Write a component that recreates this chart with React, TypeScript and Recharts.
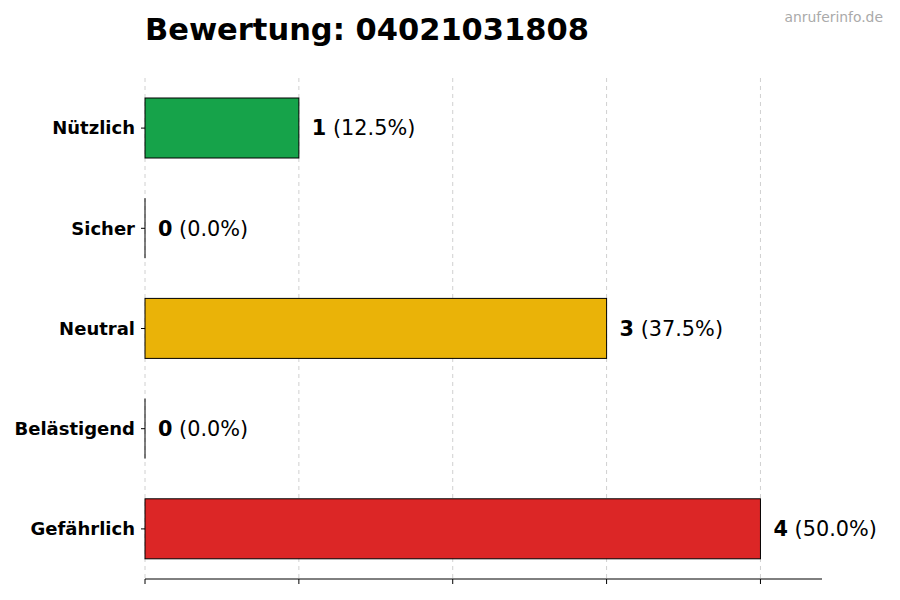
import { BarChart, Bar, XAxis, YAxis, CartesianGrid, Cell, LabelList } from "recharts";

const categories = ["Nützlich", "Sicher", "Neutral", "Belästigend", "Gefährlich"];
const counts = [1, 0, 3, 0, 4];
const percents = ["12.5%", "0.0%", "37.5%", "0.0%", "50.0%"];
const colors = ["#16a34a", "#9ca3af", "#eab308", "#f97316", "#dc2626"];
const xTicks = [0, 1, 2, 3, 4];

const data = categories.map((name, i) => ({ name, count: counts[i], pct: percents[i] }));

const FONT = "DejaVu Sans, sans-serif";

function BarShape(props: any) {
  const { x, y, width, height, fill } = props;
  if (!width) {
    return <line x1={x} x2={x} y1={y} y2={y + height} stroke="#000" strokeWidth={1} />;
  }
  return <rect x={x} y={y} width={width} height={height} fill={fill} stroke="#000" strokeWidth={1} />;
}

function ValueLabel(props: any) {
  const { x, y, width, height, index } = props;
  const d = data[index];
  return (
    <text x={x + width + 13} y={y + height / 2} dy="0.36em" fontFamily={FONT} fontSize={20.8} fill="#000">
      <tspan fontWeight="bold">{d.count}</tspan>
      <tspan> ({d.pct})</tspan>
    </text>
  );
}

export default function App() {
  return (
    <div style={{ position: "absolute", left: 0, top: 0, width: 900, height: 600, background: "#fff" }}>
      <svg width={900} height={600} style={{ position: "absolute", left: 0, top: 0 }}>
        <text x={145} y={40} fontFamily={FONT} fontSize={30.5} fontWeight="bold" fill="#000">
          Bewertung: 04021031808
        </text>
        <text x={883} y={22} textAnchor="end" fontFamily={FONT} fontSize={13.9} fill="#aaaaaa">
          anruferinfo.de
        </text>
      </svg>
      <div style={{ position: "absolute", left: 0, top: 0 }}>
        <BarChart
          width={900}
          height={600}
          data={data}
          layout="vertical"
          margin={{ top: 78, right: 78, bottom: 0, left: 0 }}
          barSize={60}
        >
          <CartesianGrid horizontal={false} verticalValues={xTicks} strokeDasharray="4 4" stroke="#d0d0d0" />
          <XAxis
            type="number"
            domain={[0, 4.4]}
            ticks={xTicks}
            height={21}
            tickFormatter={() => ""}
            tickSize={5}
            stroke="#000"
            axisLine={{ stroke: "#000" }}
            tickLine={{ stroke: "#000" }}
          />
          <YAxis
            type="category"
            dataKey="name"
            width={145}
            axisLine={false}
            tickSize={4}
            tickMargin={6}
            tickLine={{ stroke: "#000" }}
            tick={{ fontFamily: FONT, fontSize: 18, fontWeight: "bold", fill: "#000" }}
          />
          <Bar dataKey="count" isAnimationActive={false} shape={BarShape}>
            {data.map((d, i) => (
              <Cell key={d.name} fill={colors[i]} />
            ))}
            <LabelList dataKey="count" content={ValueLabel} />
          </Bar>
        </BarChart>
      </div>
    </div>
  );
}
